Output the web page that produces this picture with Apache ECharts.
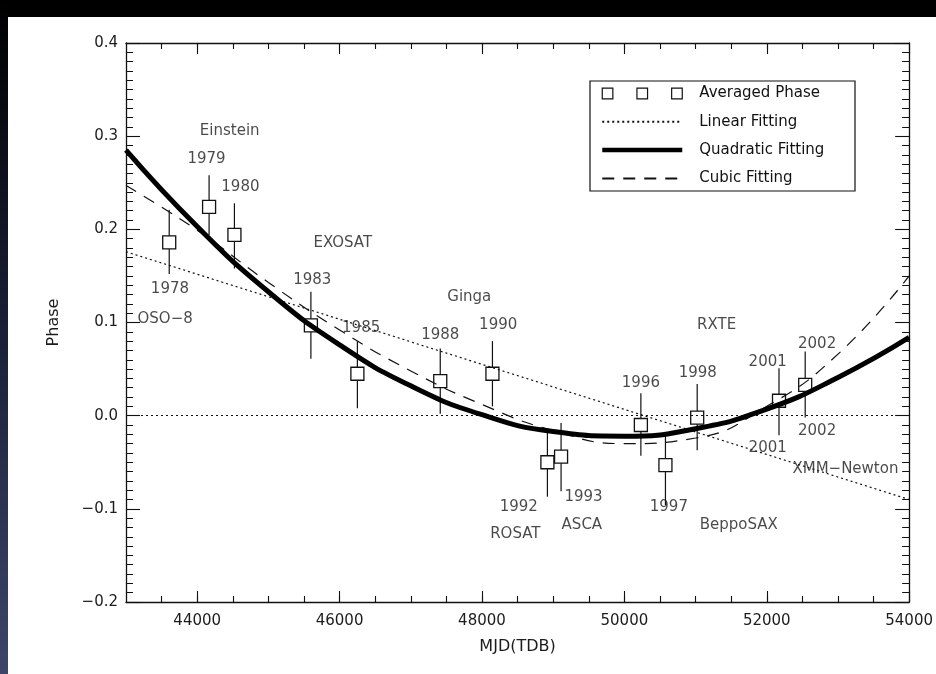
<!DOCTYPE html>
<html>
<head>
<meta charset="utf-8">
<script src="https://cdn.jsdelivr.net/npm/echarts@6/dist/echarts.min.js"></script>
<style>
html,body{margin:0;padding:0;background:#fff;}
#chart{width:936px;height:674px;}
</style>
</head>
<body>
<div id="chart"></div>
<script>
// ---- data ----
const obsYear  = ['1978','1979','1980','1983','1985','1988','1990','1992','1993','1996','1997','1998','2001','2002'];
const obsMJD   = [43607, 44167, 44523, 45597, 46250, 47414, 48147, 48919, 49111, 50232, 50577, 51023, 52172, 52540];
const obsPhase = [0.186, 0.224, 0.194, 0.097, 0.045, 0.037, 0.045, -0.050, -0.044, -0.010, -0.053, -0.002, 0.016, 0.033];
const obsHigh  = [0.221, 0.258, 0.228, 0.133, 0.080, 0.072, 0.080, -0.017, -0.008, 0.024, -0.020, 0.034, 0.051, 0.069];
const obsLow   = [0.152, 0.194, 0.158, 0.061, 0.008, 0.002, 0.010, -0.087, -0.081, -0.043, -0.096, -0.037, -0.021, -0.002];

const fitMJD    = [43000, 44000, 45000, 46000, 47000, 48000, 49000, 50000, 51000, 52000, 53000, 54000];
const quadFit   = [0.285, 0.203, 0.133, 0.076, 0.032, 0.001, -0.017, -0.022, -0.014, 0.007, 0.041, 0.084];
const cubicFit  = [0.247, 0.199, 0.143, 0.092, 0.048, 0.012, -0.016, -0.030, -0.024, 0.010, 0.066, 0.150];
const linearMJD = [43000, 54000];
const linearFit = [0.176, -0.090];

const annText  = ['Einstein','1979','1980','EXOSAT','1978','OSO\u22128','1983','1985','Ginga','1988','1990','RXTE','2002','2001','1998','1996','2002','2001','XMM\u2212Newton','1992','1993','1997','ROSAT','ASCA','BeppoSAX'];
const annMJD   = [44457, 44131, 44607, 46045, 43617, 43550, 45616, 46303, 47822, 47414, 48228, 51296, 52707, 52013, 51031, 50232, 52707, 52013, 53105, 48517, 49427, 50625, 48468, 49403, 51608];
const annPhase = [0.305, 0.275, 0.245, 0.185, 0.136, 0.104, 0.146, 0.094, 0.127, 0.087, 0.097, 0.097, 0.077, 0.057, 0.046, 0.035, -0.017, -0.035, -0.057, -0.098, -0.087, -0.098, -0.127, -0.118, -0.118];

const xMajorTicks = [44000, 46000, 48000, 50000, 52000, 54000];
const xMinorTicks = [43500, 44000, 44500, 45000, 45500, 46000, 46500, 47000, 47500, 48000, 48500, 49000, 49500, 50000, 50500, 51000, 51500, 52000, 52500, 53000, 53500];
const yTickLabels = ['\u22120.2', '\u22120.1', '0.0', '0.1', '0.2', '0.3', '0.4'];

const legendNames = ['Averaged Phase', 'Linear Fitting', 'Quadratic Fitting', 'Cubic Fitting'];

// ---- chart ----
const FONT = '"DejaVu Sans", "Liberation Sans", Arial, sans-serif';
const INK = '#111';
const TXT = '#1c1c1c';
const chart = echarts.init(document.getElementById('chart'), null, {renderer: 'canvas'});

function xAxisDef(pos, ticks, len, withLine, withLabel) {
  return {
    type: 'value', position: pos, min: 43000, max: 54000, gridIndex: 0,
    axisLine: {show: withLine, onZero: false, lineStyle: {color: INK, width: 1.3}},
    axisTick: {show: true, inside: true, length: len, customValues: ticks, lineStyle: {color: INK, width: 1.1}},
    axisLabel: withLabel ? {show: true, customValues: xMajorTicks, margin: 12, fontSize: 15, fontFamily: FONT, color: TXT,
      formatter: v => String(v)} : {show: false},
    splitLine: {show: false},
    name: withLabel ? 'MJD(TDB)' : '',
    nameLocation: 'middle', nameGap: 37,
    nameTextStyle: {fontSize: 16, fontFamily: FONT, color: TXT}
  };
}
function yAxisDef(pos, withLabel) {
  return {
    type: 'value', position: pos, min: -0.2, max: 0.4, interval: 0.1, gridIndex: 0,
    axisLine: {show: true, onZero: false, lineStyle: {color: INK, width: 1.3}},
    axisTick: {show: true, inside: true, length: 14, lineStyle: {color: INK, width: 1.1}},
    minorTick: {show: true, splitNumber: 10, length: 7, lineStyle: {color: INK, width: 1}},
    axisLabel: withLabel ? {show: true, margin: 8, fontSize: 15, fontFamily: FONT, color: TXT,
      formatter: v => yTickLabels[Math.round((v + 0.2) * 10)]} : {show: false},
    splitLine: {show: false},
    name: withLabel ? 'Phase' : '',
    nameLocation: 'middle', nameGap: 64,
    nameTextStyle: {fontSize: 16, fontFamily: FONT, color: TXT}
  };
}

const option = {
  animation: false,
  backgroundColor: '#ffffff',
  textStyle: {fontFamily: FONT},
  grid: {left: 126, right: 25, top: 43, bottom: 72, containLabel: false},
  xAxis: [
    xAxisDef('bottom', xMajorTicks, 11, true, true),
    xAxisDef('bottom', xMinorTicks, 6, false, false),
    xAxisDef('top', xMajorTicks, 11, true, false),
    xAxisDef('top', xMinorTicks, 6, false, false)
  ],
  yAxis: [
    yAxisDef('left', true),
    yAxisDef('right', false)
  ],
  legend: {
    show: true, orient: 'vertical', left: 600, top: 86, padding: 0,
    itemWidth: 80, itemHeight: 12, itemGap: 13.3,
    selectedMode: false,
    textStyle: {fontSize: 15, fontFamily: FONT, color: INK, padding: [0, 0, 0, 12]},
    data: [
      {name: legendNames[0], icon: 'path://M0,0H11V11H0Z M36,0H47V11H36Z M72,0H83V11H72Z',
       itemStyle: {color: 'rgba(0,0,0,0)', borderColor: INK, borderWidth: 1.2}},
      {name: legendNames[1], itemStyle: {opacity: 0}},
      {name: legendNames[2], itemStyle: {opacity: 0}, lineStyle: {width: 4.5}},
      {name: legendNames[3], itemStyle: {opacity: 0}}
    ]
  },
  graphic: [
    {type: 'rect', silent: true, z: 100, shape: {x: 590, y: 81, width: 265, height: 110},
     style: {fill: 'none', stroke: INK, lineWidth: 1.2}},
    {type: 'rect', silent: true, z: 200, shape: {x: 0, y: 0, width: 936, height: 17}, style: {fill: '#000'}},
    {type: 'rect', silent: true, z: 200, shape: {x: 0, y: 0, width: 8, height: 674},
     style: {fill: new echarts.graphic.LinearGradient(0, 0, 0, 1, [
       {offset: 0, color: '#000000'}, {offset: 0.5, color: '#1b2038'}, {offset: 1, color: '#3d4569'}])}}
  ],
  series: [
    {
      name: legendNames[0], type: 'custom', xAxisIndex: 0, yAxisIndex: 0, z: 3,
      data: obsMJD.map((m, i) => [m, obsPhase[i], obsLow[i], obsHigh[i]]),
      encode: {x: 0, y: 1},
      renderItem: function (params, api) {
        const c = api.coord([api.value(0), api.value(1)]);
        const pHi = api.coord([api.value(0), api.value(3)]);
        const pLo = api.coord([api.value(0), api.value(2)]);
        const h = 6.5;
        const st = {stroke: INK, lineWidth: 1.2, fill: null};
        return {type: 'group', children: [
          {type: 'line', shape: {x1: c[0], y1: pHi[1], x2: c[0], y2: c[1] - h}, style: st},
          {type: 'line', shape: {x1: c[0], y1: c[1] + h, x2: c[0], y2: pLo[1]}, style: st},
          {type: 'rect', shape: {x: c[0] - h, y: c[1] - h, width: 2 * h, height: 2 * h},
           style: {stroke: INK, lineWidth: 1.3, fill: 'rgba(0,0,0,0)'}}
        ]};
      },
      silent: true
    },
    {
      name: legendNames[1], type: 'line', symbol: 'none', z: 4, silent: true,
      data: linearMJD.map((m, i) => [m, linearFit[i]]),
      lineStyle: {color: INK, width: 1.2, type: [2, 3]},
      itemStyle: {color: INK}
    },
    {
      name: legendNames[2], type: 'line', symbol: 'none', z: 5, silent: true, smooth: 0.5,
      data: fitMJD.map((m, i) => [m, quadFit[i]]),
      lineStyle: {color: '#000', width: 5},
      itemStyle: {color: '#000'}
    },
    {
      name: legendNames[3], type: 'line', symbol: 'none', z: 4, silent: true, smooth: 0.5,
      data: fitMJD.map((m, i) => [m, cubicFit[i]]),
      lineStyle: {color: INK, width: 1.2, type: [12, 9]},
      itemStyle: {color: INK},
      markLine: {
        silent: true, symbol: 'none', label: {show: false},
        lineStyle: {color: INK, width: 1.2, type: [2, 3]},
        data: [{yAxis: 0}]
      }
    },
    {
      name: 'annotations', type: 'scatter', z: 6, silent: true,
      symbolSize: 1, itemStyle: {color: 'rgba(0,0,0,0)'},
      data: annText.map((t, i) => ({name: t, value: [annMJD[i], annPhase[i]]})),
      label: {show: true, position: 'inside', formatter: '{b}', fontSize: 15, fontFamily: FONT, color: TXT},
      labelLayout: {hideOverlap: false}
    }
  ]
};
chart.setOption(option);
</script>
</body>
</html>
